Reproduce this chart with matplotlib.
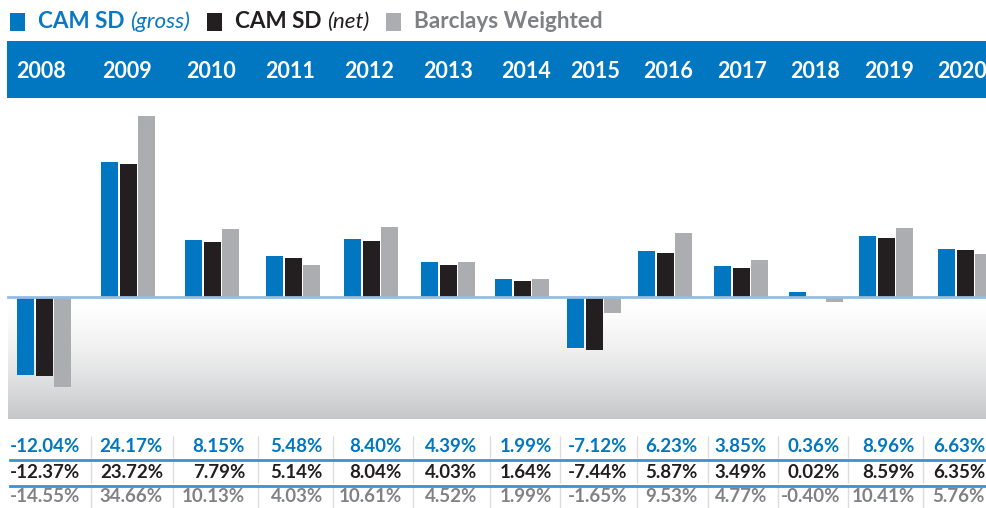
import numpy as np
import matplotlib.pyplot as plt
from matplotlib.colors import LinearSegmentedColormap

years = ['2008', '2009', '2010', '2011', '2012', '2013', '2014',
         '2015', '2016', '2017', '2018', '2019', '2020']
gross = [-12.04, 24.17, 8.15, 5.48, 8.40, 4.39, 1.99, -7.12, 6.23, 3.85, 0.36, 8.96, 6.63]
net = [-12.37, 23.72, 7.79, 5.14, 8.04, 4.03, 1.64, -7.44, 5.87, 3.49, 0.02, 8.59, 6.35]
barclays = [-14.55, 34.66, 10.13, 4.03, 10.61, 4.52, 1.99, -1.65, 9.53, 4.77, -0.40, 10.41, 5.76]

series = [
    ('CAM SD ', '(gross)', gross, '#0077c0', '#0a78c2', '#0077c0'),
    ('CAM SD ', '(net)', net, '#231f20', '#231f20', '#231f20'),
    ('Barclays Weighted', '', barclays, '#acadb1', '#7f8083', '#808285'),
]

# layout (pixels)
group_x = [44, 128, 212, 293, 371, 448, 522, 594, 665, 741, 816, 886, 965]
year_x = [41, 127, 211, 290, 369, 448, 526, 595, 668, 742, 815, 889, 962]
val_right = [80, 163, 245, 323, 402, 477, 552, 627, 698, 767, 840, 915, 985]
sep_x = [91, 173, 258, 333, 413, 490, 560, 637, 708, 778, 848, 923]
W, H = 986, 508
zero_y, chart_top, chart_bot = 297, 100, 419
px_unit = 10.6   # pixels per scaled unit
power = 0.8      # the bars in the original are compressed for large values

FONT = 'Lato'
BLUE = '#0077c0'


def fwd(y):
    y = np.asarray(y, dtype=float)
    return np.sign(y) * np.abs(y) ** power


def inv(y):
    y = np.asarray(y, dtype=float)
    return np.sign(y) * np.abs(y) ** (1 / power)


fig = plt.figure(figsize=(W / 100, H / 100), dpi=100)
bg = fig.add_axes([0, 0, 1, 1])
bg.axis('off')

# header band with years
bg.add_patch(plt.Rectangle((7, 41), W - 7, 57, color=BLUE, lw=0))
for x, yr in zip(year_x, years):
    bg.text(x, 71, yr, color='white', fontsize=15.5, fontweight='bold',
            family=FONT, ha='center', va='center')

# gradient under zero line
ramp = np.linspace(0, 1, 200) ** 1.5
cmap = LinearSegmentedColormap.from_list('g', ['#ffffff', '#c6c7c9'])
bg.imshow(ramp[:, None], cmap=cmap, aspect='auto', vmin=0, vmax=1,
          extent=[8, W, chart_bot, zero_y], zorder=0)
bg.set_xlim(0, W)
bg.set_ylim(H, 0)

# bars
ax = fig.add_axes([0, (H - chart_bot) / H, 1, (chart_bot - chart_top) / H])
ax.set_yscale('function', functions=(fwd, inv))
ax.set_xlim(0, W)
ax.set_ylim(float(inv(-(chart_bot - zero_y) / px_unit)),
            float(inv((zero_y - chart_top) / px_unit)))
ax.axis('off')
ax.patch.set_alpha(0)
offsets = [-18.5, 0, 18.5]
for (lab, sub, vals, bar_c, leg_c, txt_c), off in zip(series, offsets):
    ax.bar(np.array(group_x) + off, vals, width=17, color=bar_c, lw=0, zorder=2)
ax.plot([8, W], [0, 0], color='#94bde3', lw=2, zorder=3)

# legend
fig.canvas.draw()
r = fig.canvas.get_renderer()
lx = 10
for lab, sub, vals, bar_c, leg_c, txt_c in series:
    bg.add_patch(plt.Rectangle((lx, 13), 15, 18, color=bar_c, lw=0))
    t = bg.text(lx + 28, 22, lab, color=leg_c, fontsize=16.2, fontweight='bold',
                family=FONT, ha='left', va='center')
    x1 = t.get_window_extent(r).x1
    if sub:
        t2 = bg.text(x1, 22, sub, color=leg_c, fontsize=16.2, style='italic',
                     family=FONT, ha='left', va='center')
        x1 = t2.get_window_extent(r).x1
    lx = x1 + 17

# table of values
row_y = [447, 472, 497]
for ry, (lab, sub, vals, bar_c, leg_c, txt_c) in zip(row_y, series):
    for xr, v in zip(val_right, vals):
        bg.text(xr, ry, f'{v:.2f}%', color=txt_c, fontsize=13.5, fontweight='bold',
                family=FONT, ha='right', va='center')
    bg.vlines(sep_x, ry - 11, ry + 11, color='#dcdcdc', lw=1)
for ly in [460, 486]:
    bg.plot([10, W], [ly, ly], color='#3d8fd1', lw=2)

fig.savefig('out.png', dpi=100)
